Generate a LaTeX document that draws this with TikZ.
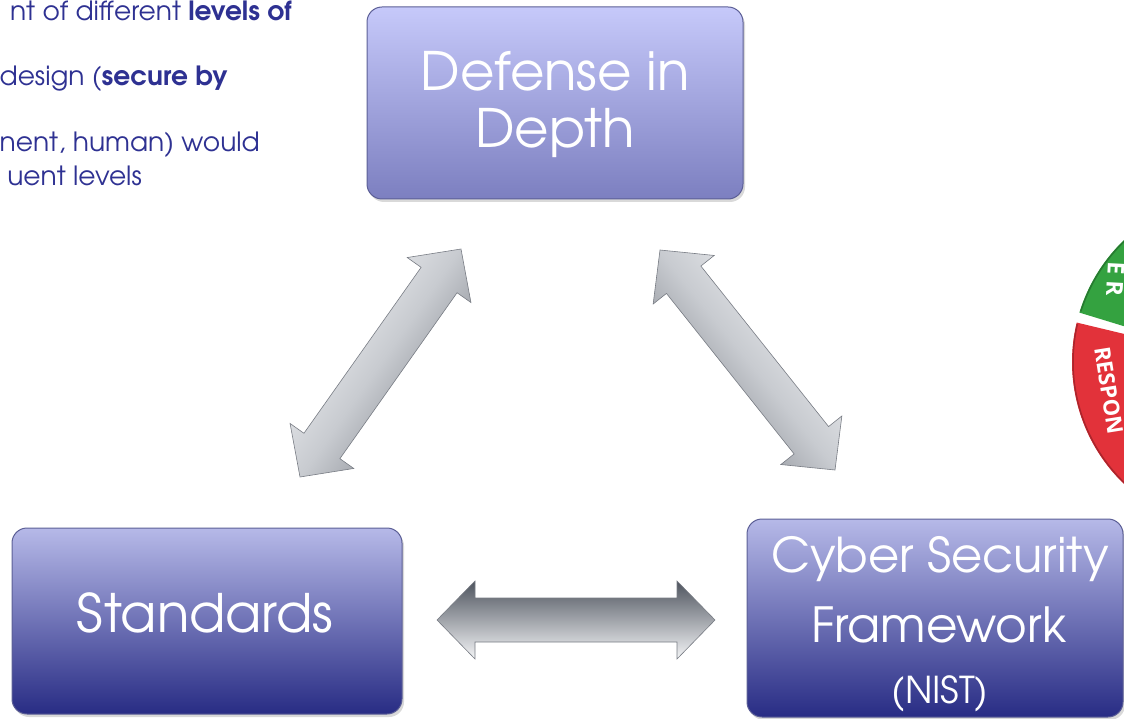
\documentclass[tikz,border=0pt]{standalone}
\usepackage{fontspec}
\setmainfont{texgyreadventor}[Extension=.otf, UprightFont=*-regular, BoldFont=*-bold, ItalicFont=*-italic, BoldItalicFont=*-bolditalic]
\newfontfamily\wheelfont{Open Sans}
\newfontfamily\wheelfontwide{Open Sans}[LetterSpace=30]
\usetikzlibrary{calc,shadows}
\definecolor{txtblue}{RGB}{46,49,146}
\definecolor{ddTop}{RGB}{198,201,250}
\definecolor{ddBot}{RGB}{124,127,192}
\definecolor{bxTop}{RGB}{182,185,232}
\definecolor{bxMid}{RGB}{138,141,200}
\definecolor{bxBot}{RGB}{40,44,132}
\definecolor{bxEdge}{RGB}{92,95,150}
\definecolor{arrDark}{RGB}{78,84,94}
\definecolor{arrMid}{RGB}{140,145,152}
\definecolor{arrLight}{RGB}{244,245,247}
\definecolor{arrEdge}{RGB}{120,124,132}
\definecolor{silLight}{RGB}{246,247,249}
\definecolor{silMid}{RGB}{200,203,208}
\definecolor{silDark}{RGB}{120,124,132}
\definecolor{wgreen}{RGB}{52,162,64}
\definecolor{wred}{RGB}{226,50,58}
\newcommand\dblarrow[3]{%
  \coordinate (HA) at ($(#2)!38pt!(#3)$);
  \coordinate (HB) at ($(#3)!38pt!(#2)$);
  \path[#1] (#2) -- ($(HA)!39pt!90:(#3)$) -- ($(HA)!22pt!90:(#3)$)
    -- ($(HB)!22pt!-90:(#2)$) -- ($(HB)!39pt!-90:(#2)$) -- (#3)
    -- ($(HB)!39pt!90:(#2)$) -- ($(HB)!22pt!90:(#2)$)
    -- ($(HA)!22pt!-90:(#3)$) -- ($(HA)!39pt!-90:(#3)$) -- cycle;}
\begin{document}
\begin{tikzpicture}[x=1pt,y=-1pt,
  box/.style={rounded corners=15pt, draw=bxEdge, line width=1pt,
    drop shadow={shadow xshift=2pt, shadow yshift=-3pt, opacity=.3}},
  boxtext/.style={text=white, inner sep=0pt, anchor=base},
  bodytext/.style={text=txtblue, inner sep=0pt, anchor=base east, font=\fontsize{26.5}{30}\selectfont},
  horarrow/.style={draw=arrEdge, line width=.6pt, top color=arrDark, middle color=arrMid, bottom color=arrLight},
  diagarrow/.style={draw=arrEdge, line width=.6pt, top color=silLight, bottom color=silDark, middle color=silMid, shading angle=#1},
  wheeltext/.style={text=white, inner sep=0pt, anchor=base west, font=\wheelfont\bfseries\fontsize{22}{22}\selectfont}]
\useasboundingbox (0,0) rectangle (1124,719);
\clip (0,0) rectangle (1124,719);

% top-left text (cut off by the picture edge)
\node[bodytext] (t1) at (292,20.5) {nt of different \textbf{levels of}};
\node[bodytext] (t2) at (228,86) {design (\textbf{secure by}};
\node[bodytext] (t3) at (260,152) {nent, human) would};
\node[bodytext] (t4) at (142,186) {uent levels};

% wheel (partially visible)
\begin{scope}[shift={(1241,362)}, y=1pt]
  \fill[wgreen] (163:169) arc[start angle=163, end angle=95, radius=169]
    -- (95:105) arc[start angle=95, end angle=163, radius=105] -- cycle;
  \fill[wred] (166.5:169) arc[start angle=166.5, end angle=240, radius=169]
    -- (240:105) arc[start angle=240, end angle=166.5, radius=105] -- cycle;
  \draw[wred!75!black, line width=1.5pt] (167:168) arc[start angle=167, end angle=240, radius=168];
  \draw[wgreen!75!black, line width=1.5pt] (162.5:168) arc[start angle=162.5, end angle=95, radius=168];
\end{scope}
\node[wheeltext, rotate=-81] (wt1) at (1094,348) {RESPON};
\node[wheeltext, rotate=-93, font=\wheelfontwide\bfseries\fontsize{23}{23}\selectfont] (wt2) at (1108,261) {ER};

% boxes
\node[box, top color=ddTop, bottom color=ddBot, minimum width=376pt, minimum height=192pt] (did) at (555,103) {};
\node[boxtext, font=\fontsize{53}{53}\selectfont] (did1) at (555,91) {Defense in};
\node[boxtext, font=\fontsize{53}{53}\selectfont] (did2) at (555,148) {Depth};

\node[box, top color=bxTop, middle color=bxMid, bottom color=bxBot, minimum width=390pt, minimum height=186pt] (std) at (207,621) {};
\node[boxtext, font=\fontsize{53}{53}\selectfont] (std1) at (205,632) {Standards};

\node[box, top color=bxTop, middle color=bxMid, bottom color=bxBot, minimum width=376pt, minimum height=198pt] (csf) at (935,618) {};
\node[boxtext, font=\fontsize{48}{48}\selectfont] (csf1) at (940,572) {Cyber Security};
\node[boxtext, font=\fontsize{48.4}{48}\selectfont] (csf2) at (939,642) {Framework};
\node[boxtext, font=\fontsize{37}{37}\selectfont] (csf3) at (940,703) {(NIST)};

% double arrows
\coordinate (h1) at (437,620); \coordinate (h2) at (715,620);
\coordinate (l1) at (300,477); \coordinate (l2) at (461,249);
\coordinate (r1) at (660,250); \coordinate (r2) at (835,470);
\dblarrow{horarrow}{h1}{h2}
\dblarrow{diagarrow=55}{l1}{l2}
\dblarrow{diagarrow=-51}{r1}{r2}
\end{tikzpicture}
\end{document}
